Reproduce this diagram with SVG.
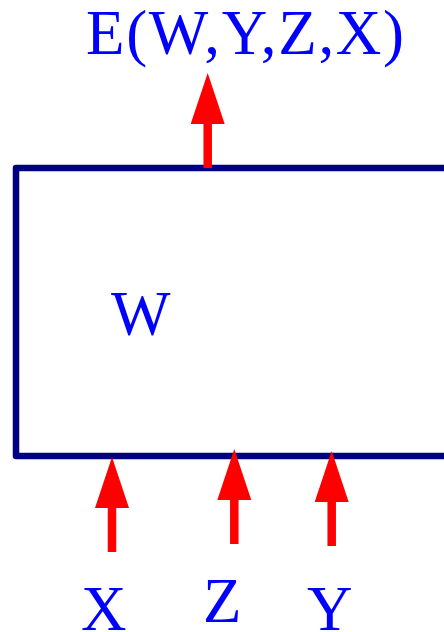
<svg xmlns="http://www.w3.org/2000/svg" width="444" height="632" viewBox="0 0 444 632">
<style>
.lbl{font-family:"Liberation Serif","Times New Roman",serif;font-size:63px;fill:#0000FF}
.box{fill:none;stroke:#000080;stroke-width:6.5;stroke-linejoin:round}
.arr{stroke:#FF0000;stroke-width:8.5;fill:none;marker-end:url(#head)}
</style>
<defs>
<marker id="head" markerUnits="userSpaceOnUse" markerWidth="52" markerHeight="36" viewBox="0 0 52 36" refX="1" refY="17" orient="auto">
<path d="M0,0 L51,17 L0,34 Z" fill="#FF0000"/>
</marker>
</defs>
<rect width="444" height="632" fill="#FFFFFF"/>
<g id="box">
<rect class="box" x="16" y="168" width="460" height="288"/>
<text class="lbl" x="111" y="335">W</text>
</g>
<g id="output">
<text class="lbl" x="86" y="54" textLength="318" lengthAdjust="spacing">E(W,Y,Z,X)</text>
</g>
<g id="inX"><text class="lbl" x="81" y="630">X</text></g>
<g id="inZ"><text class="lbl" x="203" y="622">Z</text></g>
<g id="inY"><text class="lbl" x="307" y="630">Y</text></g>
<g id="connectors">
<line class="arr" x1="207.7" y1="168" x2="207.7" y2="123"/>
<line class="arr" x1="112" y1="552" x2="112" y2="507"/>
<line class="arr" x1="234.3" y1="544" x2="234.3" y2="499"/>
<line class="arr" x1="331.7" y1="546" x2="331.7" y2="501"/>
</g>
</svg>
